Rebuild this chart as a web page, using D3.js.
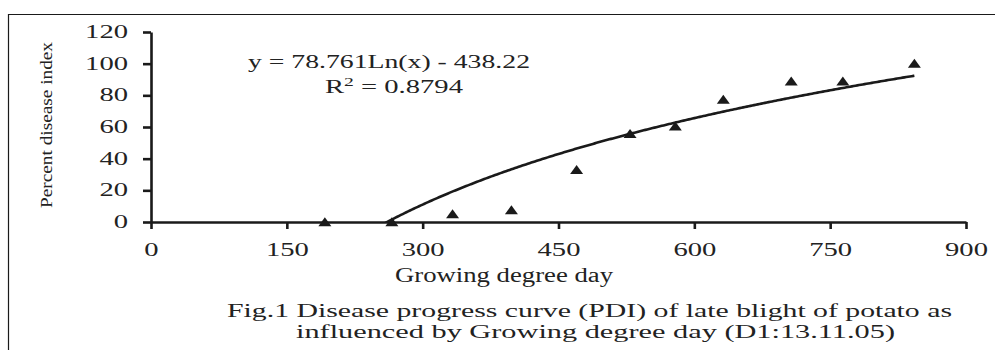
<!DOCTYPE html>
<html>
<head>
<meta charset="utf-8">
<script src="https://cdn.jsdelivr.net/npm/d3@7/dist/d3.min.js"></script>
<style>
  html, body { margin: 0; padding: 0; background: #fff; }
  svg { display: block; }
  text { font-family: "Liberation Serif", "Times New Roman", serif; fill: #222; }
</style>
</head>
<body>
<svg id="chart" width="995" height="350"></svg>
<script>
// ---- data ----
const gdd = [192, 266, 333, 398, 470, 529, 579, 632, 707, 764, 843];
const pdi = [0, 0, 5, 7.5, 33, 55.7, 60.5, 77.4, 88.9, 88.9, 100];
const xTicks = [0, 150, 300, 450, 600, 750, 900];
const yTicks = [0, 20, 40, 60, 80, 100, 120];
const trendA = 78.761;   // y = a Ln(x) + b (from the chart's equation)
const trendB = -438.22;
const eqText = "y = 78.761Ln(x) - 438.22";
const r2Value = "0.8794";
const xTitle = "Growing degree day";
const yTitle = "Percent disease index";
const captionLines = [
  "Fig.1 Disease progress curve (PDI) of late blight of potato as",
  "influenced by Growing degree day (D1:13.11.05)"
];

// ---- layout ----
const svg = d3.select("#chart");
const ink = "#1a1a1a";
const textInk = "#222";
const x = d3.scaleLinear().domain([0, 900]).range([151, 966]);
const y = d3.scaleLinear().domain([0, 120]).range([222, 32]);

// frame (top and left edges only visible)
svg.append("line").attr("x1", 8).attr("x2", 995).attr("y1", 14.5).attr("y2", 14.5)
  .attr("stroke", ink).attr("stroke-width", 1.2);
svg.append("line").attr("x1", 8.5).attr("x2", 8.5).attr("y1", 14).attr("y2", 350)
  .attr("stroke", ink).attr("stroke-width", 1.2);

function stretch(sel, perChar) {
  sel.each(function() {
    const t = d3.select(this);
    const n = t.text().length;
    t.attr("textLength", n * perChar).attr("lengthAdjust", "spacingAndGlyphs");
  });
}

// y axis
const gy = svg.append("g").attr("transform", `translate(${x(0)},0)`)
  .call(d3.axisLeft(y).tickValues(yTicks).tickSize(8).tickPadding(15).tickSizeOuter(0));
gy.select(".domain").attr("stroke", ink).attr("stroke-width", 2.6);
gy.selectAll(".tick line").attr("stroke", ink).attr("stroke-width", 2.6);
gy.selectAll(".tick text").attr("font-size", 19).attr("dy", 5.5).attr("x", -23)
  .attr("font-family", "Liberation Serif").attr("fill", textInk);
stretch(gy.selectAll(".tick text"), 14.3);

// x axis
const gx = svg.append("g").attr("transform", `translate(0,${y(0)})`)
  .call(d3.axisBottom(x).tickValues(xTicks).tickSize(7).tickSizeOuter(0));
gx.select(".domain").attr("stroke", ink).attr("stroke-width", 2.6);
gx.selectAll(".tick line").attr("stroke", ink).attr("stroke-width", 2.6);
gx.selectAll(".tick text").attr("font-size", 19).attr("y", 34).attr("dy", 0)
  .attr("font-family", "Liberation Serif").attr("fill", textInk);
stretch(gx.selectAll(".tick text"), 14.3);

// trend line (clipped to plot area)
svg.append("clipPath").attr("id", "plotclip").append("rect")
  .attr("x", x(0)).attr("y", y(120)).attr("width", x(900) - x(0)).attr("height", y(0) - y(120));
const xs = d3.range(d3.min(gdd), d3.max(gdd), 2).concat([d3.max(gdd)]);
const line = d3.line().x(d => x(d)).y(d => y(trendA * Math.log(d) + trendB));
svg.append("path").datum(xs).attr("d", line).attr("clip-path", "url(#plotclip)")
  .attr("fill", "none").attr("stroke", ink).attr("stroke-width", 2.6)
  .attr("stroke-linejoin", "round");

// triangle markers
const tri = "M0,-4.8L6.5,4.2L-6.5,4.2Z";
svg.append("g").selectAll("path").data(gdd).join("path")
  .attr("d", tri)
  .attr("transform", (d, i) => `translate(${x(d)},${y(pdi[i])})`)
  .attr("fill", ink);

// equation
svg.append("text").attr("x", 248).attr("y", 68).attr("font-size", 19)
  .attr("textLength", 282).attr("lengthAdjust", "spacingAndGlyphs").text(eqText);
const r2 = svg.append("text").attr("x", 325).attr("y", 93).attr("font-size", 19)
  .attr("textLength", 138).attr("lengthAdjust", "spacingAndGlyphs");
r2.append("tspan").text("R");
r2.append("tspan").attr("dy", -7).attr("font-size", 13).text("2");
r2.append("tspan").attr("dy", 7).text(" = " + r2Value);

// axis titles
svg.append("text").attr("x", 504).attr("y", 282).attr("font-size", 20)
  .attr("text-anchor", "middle")
  .attr("textLength", 218).attr("lengthAdjust", "spacingAndGlyphs").text(xTitle);
svg.append("text").attr("transform", "translate(52,125) rotate(-90)")
  .attr("font-size", 16.5).attr("text-anchor", "middle")
  .attr("textLength", 166).attr("lengthAdjust", "spacingAndGlyphs").text(yTitle);

// caption
const capLeft = [227, 296], capW = [725, 599], capY = [317, 338];
captionLines.forEach((s, i) => {
  svg.append("text").attr("x", capLeft[i]).attr("y", capY[i]).attr("font-size", 18)
    .attr("textLength", capW[i]).attr("lengthAdjust", "spacingAndGlyphs").text(s);
});
</script>
</body>
</html>
